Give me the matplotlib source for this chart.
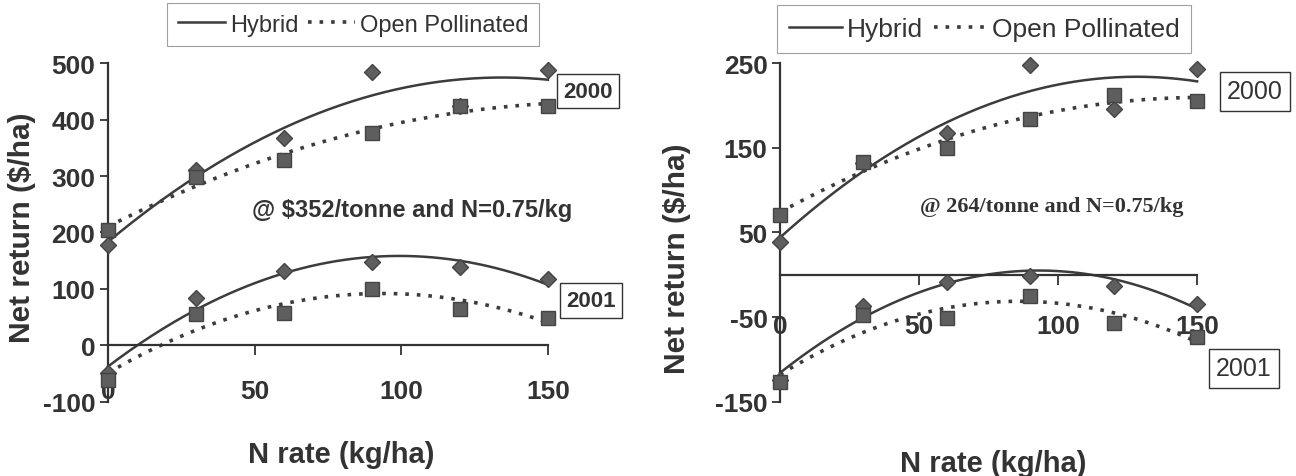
import numpy as np
import matplotlib.pyplot as plt
from matplotlib.lines import Line2D

# N rates (kg/ha)
n_rate = [0, 30, 60, 90, 120, 150]

# left panel: @ $352/tonne
hyb_2000_a = [178, 310, 367, 485, 425, 488]
op_2000_a = [205, 298, 329, 376, 425, 425]
hyb_2001_a = [-50, 83, 132, 147, 138, 117]
op_2001_a = [-62, 55, 58, 99, 65, 49]

# right panel: @ 264/tonne
hyb_2000_b = [39, 132, 168, 248, 196, 243]
op_2000_b = [71, 133, 150, 184, 213, 206]
hyb_2001_b = [-124, -37, -8, -1, -13, -34]
op_2001_b = [-127, -48, -51, -25, -57, -73]

yticks_a = [-100, 0, 100, 200, 300, 400, 500]
yticks_b = [-150, -50, 50, 150, 250]
xticks = [0, 50, 100, 150]

INK = "#333333"
LINE = "#3c3c3c"
MARK = "#5e5e5e"

plt.rcParams["font.family"] = ["Liberation Sans", "DejaVu Sans"]
plt.rcParams["axes.unicode_minus"] = False

fig = plt.figure(figsize=(12.96, 4.77), dpi=100)
ax1 = fig.add_axes([0.0833, 0.1558, 0.3395, 0.7094])
ax2 = fig.add_axes([0.6019, 0.1558, 0.3218, 0.7094])

x = np.array(n_rate)
xs = np.linspace(0, 150, 200)


def panel(ax, series, ylim, yticks, xpad):
    # quadratic trend line through each series, markers on top
    for yv, is_hyb in series:
        yv = np.array(yv)
        fit = np.polyval(np.polyfit(x, yv, 2), xs)
        if is_hyb:
            ax.plot(xs, fit, color=LINE, lw=1.8, zorder=2, clip_on=False)
            ax.plot(x, yv, "D", ms=8.5, color=MARK, mec="#444444", zorder=3, clip_on=False)
        else:
            ax.plot(xs, fit, color=LINE, lw=2.6, ls=(0, (1, 2.2)), zorder=2, clip_on=False)
            ax.plot(x, yv, "s", ms=10.5, color=MARK, mec="#444444", zorder=3, clip_on=False)
    ax.set_xlim(0, 150)
    ax.set_ylim(*ylim)
    ax.set_yticks(yticks)
    ax.set_xticks(xticks)
    ax.spines[["top", "right"]].set_visible(False)
    ax.spines["bottom"].set_position(("data", 0))
    for s in ["left", "bottom"]:
        ax.spines[s].set_color(INK)
        ax.spines[s].set_linewidth(1.6)
    ax.tick_params(axis="y", direction="out", length=6, width=1.3, color=INK, pad=3,
                   labelsize=19, labelcolor=INK)
    ax.tick_params(axis="x", direction="out", length=7, width=1.3, color=INK, pad=xpad,
                   labelsize=19, labelcolor=INK)
    for lab in ax.get_xticklabels() + ax.get_yticklabels():
        lab.set_fontweight("bold")
    ax.set_xlabel("N rate (kg/ha)", fontsize=21, fontweight="bold", color=INK)
    ax.set_ylabel("Net return ($/ha)", fontsize=21.5, fontweight="bold", color=INK)


panel(ax1, [(hyb_2000_a, True), (op_2000_a, False), (hyb_2001_a, True), (op_2001_a, False)],
      (-100, 500), yticks_a, 17)
panel(ax2, [(hyb_2000_b, True), (op_2000_b, False), (hyb_2001_b, True), (op_2001_b, False)],
      (-150, 250), yticks_b, 21)

ax1.xaxis.set_label_coords(0.53, -0.113)
ax1.yaxis.set_label_coords(-0.163, 0.516)
ax2.xaxis.set_label_coords(0.511, -0.14)
ax2.yaxis.set_label_coords(-0.213, 0.425)

handles = [Line2D([], [], color=LINE, lw=1.8),
           Line2D([], [], color=LINE, lw=2.6, ls=(0, (1, 2.2)))]
for cx, cy, fs in [(0.2724, 0.9465, 17), (0.7593, 0.937, 19)]:
    leg = fig.legend(handles, ["Hybrid", "Open Pollinated"], loc="center",
                     bbox_to_anchor=(cx, cy), ncol=2, fontsize=fs, frameon=True,
                     fancybox=False, edgecolor="#888888", handlelength=2.0,
                     handletextpad=0.2, columnspacing=0.4, borderpad=0.45,
                     labelcolor=INK)
    leg.get_frame().set_linewidth(0.8)

fig.text(0.3179, 0.5597, "@ $352/tonne and N=0.75/kg", ha="center", va="center",
         fontsize=17, fontweight="bold", color=INK)
fig.text(0.8117, 0.566, "@ 264/tonne and N=0.75/kg", ha="center", va="center",
         fontsize=16, fontweight="bold", color=INK, family=["Liberation Serif", "DejaVu Serif"])

box = dict(boxstyle="square,pad=0.3", fc="white", ec=INK, lw=1.0)
fig.text(0.4537, 0.8071, "2000", ha="center", va="center", fontsize=16,
         fontweight="bold", color=INK, bbox=box)
fig.text(0.456, 0.368, "2001", ha="center", va="center", fontsize=16,
         fontweight="bold", color=INK, bbox=box)
fig.text(0.9684, 0.8071, "2000", ha="center", va="center", fontsize=18,
         color=INK, bbox=box)
fig.text(0.9599, 0.2264, "2001", ha="center", va="center", fontsize=18,
         color=INK, bbox=box)

fig.savefig("out.png", dpi=100, facecolor="white")
